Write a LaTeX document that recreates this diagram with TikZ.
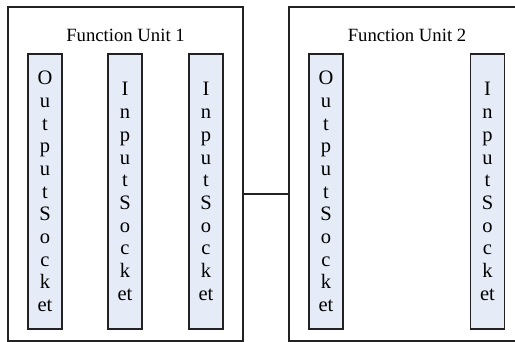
\documentclass[tikz,border=0pt]{standalone}
\usepackage{fontspec}
\setmainfont{Liberation Serif}
\definecolor{sockfill}{HTML}{E6ECF7}
\definecolor{lineclr}{HTML}{222222}
\begin{document}
\begin{tikzpicture}[x=1pt,y=-1pt,
  unitbox/.style={draw=lineclr,line width=1.3pt,fill=white,inner sep=0pt,minimum width=#1,minimum height=334pt},
  socket/.style={draw=lineclr,line width=1.3pt,fill=sockfill,inner sep=0pt,minimum width=34pt,minimum height=275pt,align=center,font=\fontsize{20.5}{22.7}\selectfont},
  title/.style={anchor=base,inner sep=0pt,font=\fontsize{18.7}{22}\selectfont}]
\useasboundingbox (0,0) rectangle (515,342);
\begin{scope}
\clip (0,0) rectangle (515,342);
\node[unitbox=235pt] (u1) at (125.5,174) {};
\node[unitbox=236pt] (u2) at (407,174) {};
\node[title] (t1) at (125.5,41.5) {Function Unit 1};
\node[title] (t2) at (407,41.5) {Function Unit 2};
\node[socket] (o1) at (45,191.5) {O\\u\\t\\p\\u\\t\\S\\o\\c\\k\\et};
\node[socket] (i1) at (125,191.5) {I\\n\\p\\u\\t\\S\\o\\c\\k\\et};
\node[socket] (i2) at (206,191.5) {I\\n\\p\\u\\t\\S\\o\\c\\k\\et};
\node[socket] (o2) at (326,191.5) {O\\u\\t\\p\\u\\t\\S\\o\\c\\k\\et};
\node[socket] (i3) at (487.5,191.5) {I\\n\\p\\u\\t\\S\\o\\c\\k\\et};
\coordinate (lk) at (266,194);
\draw[lineclr,line width=1.3pt] (u1.east|-lk) -- (u2.west|-lk);
\end{scope}
\end{tikzpicture}
\end{document}
